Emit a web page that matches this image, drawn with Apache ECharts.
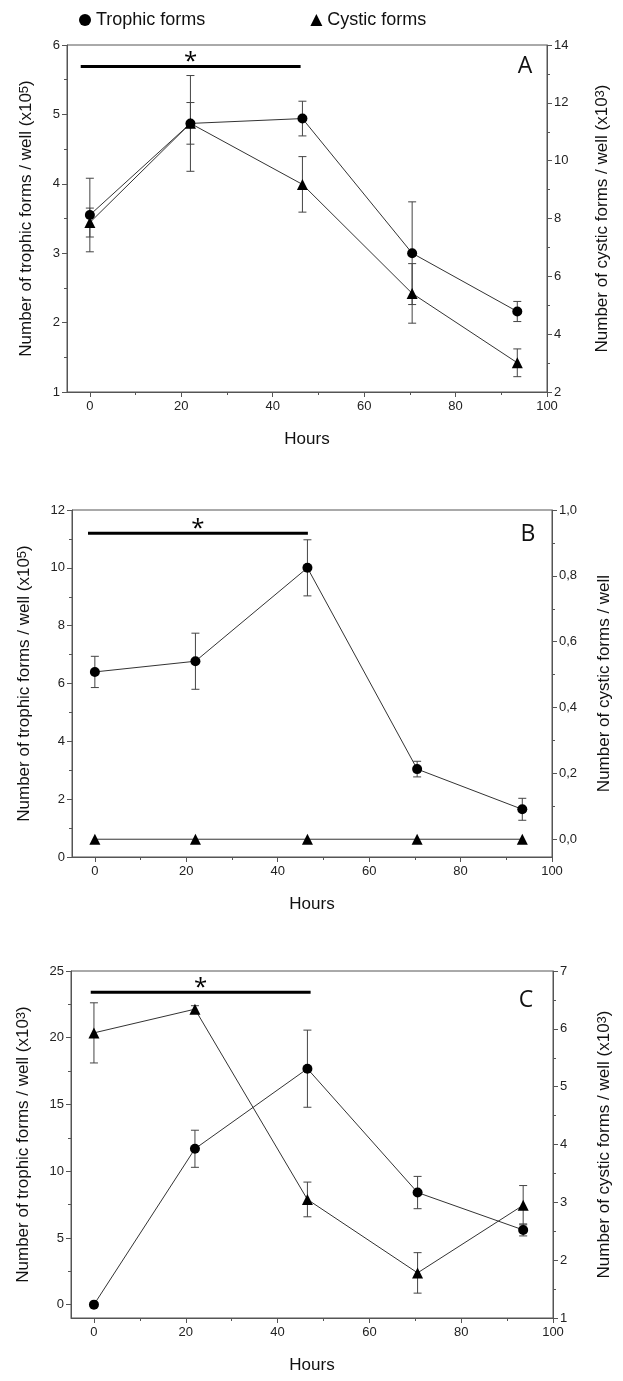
<!DOCTYPE html>
<html><head><meta charset="utf-8">
<script src="https://cdn.jsdelivr.net/npm/echarts@6/dist/echarts.min.js"></script>
<style>html,body{margin:0;padding:0;background:#fff}#c{width:623px;height:1381px}</style>
</head><body><div id="c"></div>
<script>
// ---- data ----
const hours = [0, 22, 46.5, 70.5, 93.5];
const trophicA = [3.55, 4.87, 4.94, 3.00, 2.16];
const trophicAErr = [0.53, 0.69, 0.25, 0.74, 0.145];
const cysticA = [7.86, 11.29, 9.18, 5.41, 3.01];
const cysticAErr = [0.50, 0.72, 0.96, 1.03, 0.48];
const trophicB = [6.40, 6.77, 10.0, 3.04, 1.65];
const trophicBErr = [0.54, 0.97, 0.97, 0.27, 0.38];
const cysticB = [0, 0, 0, 0, 0];
const cysticBErr = [0, 0, 0, 0, 0];
const trophicC = [0, 11.68, 17.68, 8.4, 5.6];
const trophicCErr = [0, 1.39, 2.89, 1.21, 0.45];
const cysticC = [5.93, 6.34, 3.05, 1.78, 2.95];
const cysticCErr = [0.52, 0.06, 0.30, 0.35, 0.34];
const sigStart = [-2, -1.5, -0.7];
const sigEnd = [46.1, 46.6, 47.2];
const sigLevel = [5.69, 11.2, 23.4];
const panelLetters = ['A', 'B', 'C'];
const xMajor = [0, 20, 40, 60, 80, 100];
const xMinor = [10, 30, 50, 70, 90];
const xRange = [-5, 100];
const leftMajor = [[1, 2, 3, 4, 5, 6], [0, 2, 4, 6, 8, 10, 12], [0, 5, 10, 15, 20, 25]];
const leftMinor = [[1.5, 2.5, 3.5, 4.5, 5.5], [1, 3, 5, 7, 9, 11], [2.5, 7.5, 12.5, 17.5, 22.5]];
const rightMajor = [[2, 4, 6, 8, 10, 12, 14], [0, 0.2, 0.4, 0.6, 0.8, 1.0], [1, 2, 3, 4, 5, 6, 7]];
const rightMinor = [[3, 5, 7, 9, 11, 13], [0.1, 0.3, 0.5, 0.7, 0.9], [1.5, 2.5, 3.5, 4.5, 5.5, 6.5]];
const leftRange = [[1, 6], [0, 12], [-1, 25]];
const rightRange = [[2, 14], [-0.054, 1], [1, 7]];
const leftTitles = ['Number of trophic forms / well (x10{sup|5})', 'Number of trophic forms / well (x10{sup|5})', 'Number of trophic forms / well (x10{sup|3})'];
const rightTitles = ['Number of cystic forms / well (x10{sup|3})', 'Number of cystic forms / well', 'Number of cystic forms / well (x10{sup|3})'];
const xTitle = 'Hours';
const legendNames = ['Trophic forms', 'Cystic forms'];

const trophic = [trophicA, trophicB, trophicC];
const trophicErr = [trophicAErr, trophicBErr, trophicCErr];
const cystic = [cysticA, cysticB, cysticC];
const cysticErr = [cysticAErr, cysticBErr, cysticCErr];

// ---- layout ----
const grids = [
  {left: 67, top: 45, width: 480, height: 347},
  {left: 72, top: 510, width: 480, height: 347},
  {left: 71, top: 971, width: 482, height: 347}
];
const leftGap = [31, 36, 38];
const rightGap = [47, 44, 43];
const letterPos = [[525, 66], [528, 534], [526, 1000]];
const AX = '#555';
const FONT = '"Liberation Sans", Arial, sans-serif';
const rightFmt = [v => String(v), v => v.toFixed(1).replace('.', ','), v => String(v)];

const richSup = {sup: {fontSize: 13, fontFamily: FONT, color: '#111', verticalAlign: 'top', lineHeight: 13, padding: [0, 0, 11, 0]}};

const xAxis = [], yAxis = [], series = [], graphic = [];

function errRender(params, api) {
  const x = api.value(0), y = api.value(1), e = api.value(2);
  if (!e) return null;
  const p1 = api.coord([x, y + e]), p2 = api.coord([x, y - e]);
  const w = 4;
  const st = {stroke: '#444', lineWidth: 1};
  return {type: 'group', children: [
    {type: 'line', shape: {x1: p1[0], y1: p1[1], x2: p2[0], y2: p2[1]}, style: st},
    {type: 'line', shape: {x1: p1[0] - w, y1: p1[1], x2: p1[0] + w, y2: p1[1]}, style: st},
    {type: 'line', shape: {x1: p2[0] - w, y1: p2[1], x2: p2[0] + w, y2: p2[1]}, style: st}
  ]};
}

for (let p = 0; p < 3; p++) {
  // x main
  xAxis.push({
    type: 'value', gridIndex: p, min: xRange[0], max: xRange[1], position: 'bottom',
    axisLine: {show: true, onZero: false, lineStyle: {color: AX}},
    axisTick: {show: true, length: 5, customValues: xMajor, lineStyle: {color: AX}},
    axisLabel: {customValues: xMajor, fontSize: 13, color: '#222', fontFamily: FONT, margin: 8},
    splitLine: {show: false},
    name: xTitle, nameLocation: 'middle', nameGap: 39,
    nameTextStyle: {fontSize: 17, color: '#111', fontFamily: FONT}
  });
  // x minor ticks
  xAxis.push({
    type: 'value', gridIndex: p, min: xRange[0], max: xRange[1], position: 'bottom',
    axisLine: {show: false, onZero: false}, axisLabel: {show: false}, splitLine: {show: false},
    axisTick: {show: true, length: 3, customValues: xMinor, lineStyle: {color: AX}}
  });
  // left main
  yAxis.push({
    type: 'value', gridIndex: p, min: leftRange[p][0], max: leftRange[p][1], position: 'left',
    axisLine: {show: true, onZero: false, lineStyle: {color: AX}},
    axisTick: {show: true, length: 5, customValues: leftMajor[p], lineStyle: {color: AX}},
    axisLabel: {customValues: leftMajor[p], fontSize: 13, color: '#222', fontFamily: FONT, margin: 7},
    splitLine: {show: false},
    name: leftTitles[p], nameLocation: 'middle', nameRotate: 90, nameGap: leftGap[p],
    nameTextStyle: {fontSize: 17, color: '#111', fontFamily: FONT, rich: richSup}
  });
  // right main
  yAxis.push({
    type: 'value', gridIndex: p, min: rightRange[p][0], max: rightRange[p][1], position: 'right',
    axisLine: {show: true, onZero: false, lineStyle: {color: AX}},
    axisTick: {show: true, length: 5, customValues: rightMajor[p], lineStyle: {color: AX}},
    axisLabel: {customValues: rightMajor[p], fontSize: 13, color: '#222', fontFamily: FONT, margin: 7, formatter: rightFmt[p]},
    splitLine: {show: false},
    name: rightTitles[p], nameLocation: 'middle', nameRotate: 90, nameGap: rightGap[p],
    nameTextStyle: {fontSize: 17, color: '#111', fontFamily: FONT, rich: richSup}
  });
  // left minor
  yAxis.push({
    type: 'value', gridIndex: p, min: leftRange[p][0], max: leftRange[p][1], position: 'left',
    axisLine: {show: false, onZero: false}, axisLabel: {show: false}, splitLine: {show: false},
    axisTick: {show: true, length: 3, customValues: leftMinor[p], lineStyle: {color: AX}}
  });
  // right minor
  yAxis.push({
    type: 'value', gridIndex: p, min: rightRange[p][0], max: rightRange[p][1], position: 'right',
    axisLine: {show: false, onZero: false}, axisLabel: {show: false}, splitLine: {show: false},
    axisTick: {show: true, length: 3, customValues: rightMinor[p], lineStyle: {color: AX}}
  });

  const xi = 2 * p, yl = 4 * p, yr = 4 * p + 1;
  series.push({
    type: 'custom', xAxisIndex: xi, yAxisIndex: yl, z: 1, silent: true,
    renderItem: errRender, data: hours.map((h, i) => [h, trophic[p][i], trophicErr[p][i]])
  });
  series.push({
    type: 'custom', xAxisIndex: xi, yAxisIndex: yr, z: 1, silent: true,
    renderItem: errRender, data: hours.map((h, i) => [h, cystic[p][i], cysticErr[p][i]])
  });
  series.push({
    name: legendNames[0], type: 'line', xAxisIndex: xi, yAxisIndex: yl, z: 3,
    symbol: 'circle', symbolSize: 10, itemStyle: {color: '#000'},
    lineStyle: {color: '#333', width: 1}, data: hours.map((h, i) => [h, trophic[p][i]])
  });
  series.push({
    name: legendNames[1], type: 'line', xAxisIndex: xi, yAxisIndex: yr, z: 3,
    symbol: 'triangle', symbolSize: 11, itemStyle: {color: '#000'},
    lineStyle: {color: '#333', width: 1}, data: hours.map((h, i) => [h, cystic[p][i]])
  });
  // significance bar
  series.push({
    type: 'line', xAxisIndex: xi, yAxisIndex: yl, symbol: 'none', silent: true,
    lineStyle: {color: '#000', width: 3},
    data: [[sigStart[p], sigLevel[p]], [sigEnd[p], sigLevel[p]]]
  });
  series.push({
    type: 'scatter', xAxisIndex: xi, yAxisIndex: yl, symbolSize: 1, silent: true,
    itemStyle: {opacity: 0},
    label: {show: true, formatter: '*', position: 'inside', offset: [0, -4], fontSize: 24, fontFamily: '"Open Sans", sans-serif', color: '#000', opacity: 1},
    data: [[(sigStart[p] + sigEnd[p]) / 2, sigLevel[p]]]
  });
  graphic.push({
    type: 'text', x: letterPos[p][0], y: letterPos[p][1],
    style: {text: panelLetters[p], fontSize: 23, fontFamily: '"Open Sans", sans-serif', fill: '#111', align: 'center', verticalAlign: 'middle'}
  });
}

const chart = echarts.init(document.getElementById('c'), null, {renderer: 'canvas'});
chart.setOption({
  animation: false,
  backgroundColor: '#fff',
  grid: grids.map(g => Object.assign({show: true, borderColor: AX, borderWidth: 1, backgroundColor: 'transparent', containLabel: false, outerBoundsMode: 'none'}, g)),
  legend: {
    left: 74, top: 6, itemGap: 105, itemWidth: 12, itemHeight: 12,
    textStyle: {fontSize: 18, color: '#111', fontFamily: FONT},
    data: [{name: legendNames[0], icon: 'circle'}, {name: legendNames[1], icon: 'triangle'}]
  },
  xAxis, yAxis, series, graphic
});
</script></body></html>
